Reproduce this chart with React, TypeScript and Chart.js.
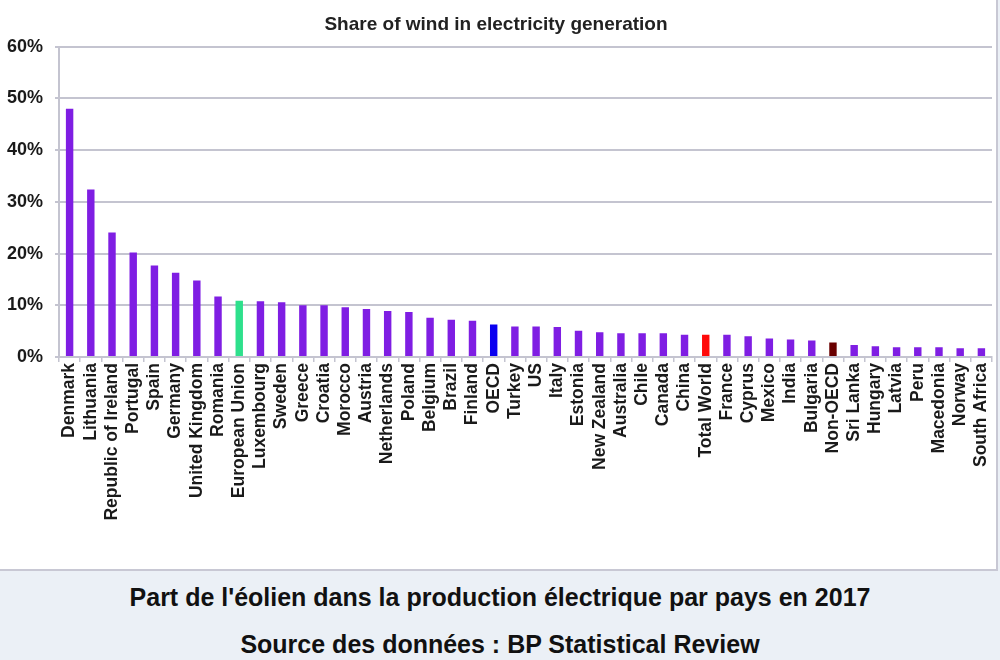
import React, { useEffect, useRef } from "react";
import { Chart, registerables } from "chart.js";

Chart.register(...registerables);

const categories = [
  "Denmark", "Lithuania", "Republic of Ireland", "Portugal", "Spain", "Germany",
  "United Kingdom", "Romania", "European Union", "Luxembourg", "Sweden", "Greece",
  "Croatia", "Morocco", "Austria", "Netherlands", "Poland", "Belgium", "Brazil",
  "Finland", "OECD", "Turkey", "US", "Italy", "Estonia", "New Zealand", "Australia",
  "Chile", "Canada", "China", "Total World", "France", "Cyprus", "Mexico", "India",
  "Bulgaria", "Non-OECD", "Sri Lanka", "Hungary", "Latvia", "Peru", "Macedonia",
  "Norway", "South Africa",
];

const windShare = [
  48.0, 32.4, 24.1, 20.2, 17.7, 16.3, 14.8, 11.7, 10.9, 10.8, 10.6, 10.0,
  10.0, 9.6, 9.3, 8.9, 8.7, 7.6, 7.2, 7.0, 6.3, 5.9, 5.9, 5.8, 5.1, 4.8, 4.6,
  4.6, 4.6, 4.3, 4.3, 4.3, 4.0, 3.6, 3.4, 3.2, 2.8, 2.3, 2.1, 1.9, 1.9, 1.9,
  1.7, 1.7,
];

const highlightColors: Record<string, string> = {
  "European Union": "#2ee08c",
  OECD: "#0a00f0",
  "Total World": "#ff0a0a",
  "Non-OECD": "#6a0000",
};
const defaultColor = "#7f1ee3";

const yTicks = [0, 10, 20, 30, 40, 50, 60];

const chartTitle = "Share of wind in electricity generation";
const caption1 = "Part de l'éolien dans la production électrique par pays en 2017";
const caption2 = "Source des données : BP Statistical Review";

export default function App() {
  const canvasRef = useRef<HTMLCanvasElement | null>(null);

  useEffect(() => {
    document.body.style.margin = "0";
    const ctx = canvasRef.current;
    if (!ctx) return;
    const colors = categories.map((c) => highlightColors[c] || defaultColor);
    const chart = new Chart(ctx, {
      type: "bar",
      data: {
        labels: categories,
        datasets: [
          {
            data: windShare,
            backgroundColor: colors,
            borderWidth: 0,
            barPercentage: 0.35,
            categoryPercentage: 1.0,
          },
        ],
      },
      options: {
        animation: false,
        responsive: true,
        maintainAspectRatio: false,
        layout: { padding: { left: 0, right: 4, top: 0, bottom: 0 } },
        plugins: {
          legend: { display: false },
          tooltip: { enabled: false },
          title: {
            display: true,
            text: chartTitle,
            color: "#222",
            font: { family: "'Liberation Sans', Arial, sans-serif", size: 19, weight: "bold" },
            padding: { top: 13, bottom: 11 },
          },
        },
        scales: {
          x: {
            grid: {
              drawOnChartArea: false,
              drawTicks: true,
              tickLength: 5,
              color: "#c4c4d0",
              lineWidth: 1.5,
            },
            border: { color: "#c4c4d0", width: 2 },
            ticks: {
              autoSkip: false,
              maxRotation: 90,
              minRotation: 90,
              padding: 1,
              color: "#1a1a1a",
              font: { family: "'Liberation Sans', Arial, sans-serif", size: 17.5, weight: "bold" },
            },
            afterFit: (scale: any) => {
              scale.height = 212;
              scale.paddingRight = 0;
              scale.paddingLeft = 0;
            },
          },
          y: {
            min: 0,
            max: 60,
            afterBuildTicks: (scale: any) => {
              scale.ticks = yTicks.map((v) => ({ value: v }));
            },
            grid: {
              color: "#c4c4d0",
              lineWidth: 2,
              tickLength: 4,
            },
            border: { color: "#c4c4d0", width: 2 },
            ticks: {
              padding: 12,
              color: "#1a1a1a",
              font: { family: "'Liberation Sans', Arial, sans-serif", size: 18, weight: "bold" },
              callback: (v: any) => v + "%",
            },
            afterFit: (scale: any) => {
              scale.width = 59;
            },
          },
        },
      },
    });
    return () => chart.destroy();
  }, []);

  const captionStyle: React.CSSProperties = {
    position: "absolute",
    left: 0,
    width: 1000,
    textAlign: "center",
    fontFamily: "'Liberation Sans', Arial, sans-serif",
    fontWeight: "bold",
    fontSize: 25,
    lineHeight: "30px",
    color: "#111",
    whiteSpace: "nowrap",
  };

  return (
    <div
      style={{
        position: "relative",
        width: 1000,
        height: 660,
        background: "#ebf0f6",
        overflow: "hidden",
      }}
    >
      <div
        style={{
          position: "absolute",
          left: 0,
          top: 0,
          width: 996,
          height: 569,
          background: "#ffffff",
          borderRight: "2px solid #c8c8d4",
          borderBottom: "2px solid #c8c8d4",
        }}
      >
        <canvas ref={canvasRef} />
      </div>
      <div style={{ ...captionStyle, top: 582 }}>{caption1}</div>
      <div style={{ ...captionStyle, top: 629 }}>{caption2}</div>
    </div>
  );
}
